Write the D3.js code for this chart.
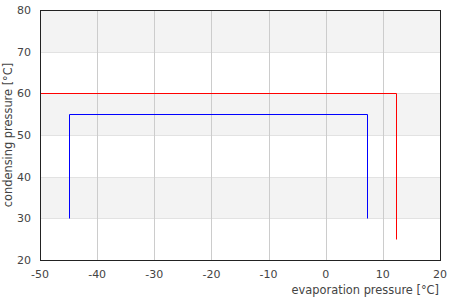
<!DOCTYPE html>
<html>
<head>
<meta charset="utf-8">
<script src="https://cdn.jsdelivr.net/npm/d3@7"></script>
<style>
body { margin: 0; background: #fff; }
text { font-family: "DejaVu Sans", sans-serif; font-size: 11px; fill: #444; }
text.title { font-size: 11.4px; }
</style>
</head>
<body>
<svg width="450" height="300"></svg>
<script>
// cycle outlines in (evaporation, condensing) coordinates
var redX = [-50, 12.3, 12.3];
var redY = [60, 60, 25];
var blueX = [-45, -45, 7.2, 7.2];
var blueY = [30, 55, 55, 30];
var xTicks = [-50, -40, -30, -20, -10, 0, 10, 20];
var yTicks = [20, 30, 40, 50, 60, 70, 80];
var bands = [[70, 80], [50, 60], [30, 40]];

var svg = d3.select("svg"),
    pLeft = 40, pRight = 440, pTop = 10, pBottom = 260;

var x = d3.scaleLinear().domain([-50, 20]).range([pLeft, pRight]);
var y = d3.scaleLinear().domain([20, 80]).range([pBottom, pTop]);

function px(v) { return Math.round(v) + 0.5; }

svg.append("g").selectAll("rect")
    .data(bands)
  .enter().append("rect")
    .attr("x", pLeft)
    .attr("y", function(d) { return px(y(d[1])); })
    .attr("width", pRight - pLeft)
    .attr("height", function(d) { return px(y(d[0])) - px(y(d[1])); })
    .attr("fill", "#f3f3f3");

svg.append("g").selectAll("line")
    .data(yTicks)
  .enter().append("line")
    .attr("x1", pLeft).attr("x2", pRight)
    .attr("y1", function(d) { return px(y(d)); })
    .attr("y2", function(d) { return px(y(d)); })
    .attr("stroke", "#e2e2e2");

svg.append("g").selectAll("line")
    .data(xTicks)
  .enter().append("line")
    .attr("y1", pTop).attr("y2", pBottom)
    .attr("x1", function(d) { return px(x(d)); })
    .attr("x2", function(d) { return px(x(d)); })
    .attr("stroke", "#cccccc");

var line = d3.line()
    .x(function(d) { return px(x(d[0])); })
    .y(function(d) { return px(y(d[1])); });

svg.append("path")
    .attr("d", line(d3.zip(redX, redY)))
    .attr("fill", "none").attr("stroke", "#ff0000");

svg.append("path")
    .attr("d", line(d3.zip(blueX, blueY)))
    .attr("fill", "none").attr("stroke", "#0000ff");

svg.append("rect")
    .attr("x", pLeft + 0.5).attr("y", pTop + 0.5)
    .attr("width", pRight - pLeft).attr("height", pBottom - pTop)
    .attr("fill", "none").attr("stroke", "#222");

svg.append("g").selectAll("text")
    .data(xTicks)
  .enter().append("text")
    .attr("x", function(d) { return x(d); })
    .attr("y", 278)
    .attr("text-anchor", "middle")
    .text(function(d) { return d; });

svg.append("g").selectAll("text")
    .data(yTicks)
  .enter().append("text")
    .attr("x", 31)
    .attr("y", function(d) { return y(d) + 4; })
    .attr("text-anchor", "end")
    .text(function(d) { return d; });

svg.append("text")
    .attr("class", "title")
    .attr("x", 439).attr("y", 294)
    .attr("text-anchor", "end")
    .text("evaporation pressure [°C]");

svg.append("text")
    .attr("class", "title")
    .attr("transform", "translate(12," + ((pTop + pBottom) / 2) + ") rotate(-90)")
    .attr("text-anchor", "middle")
    .text("condensing pressure [°C]");
</script>
</body>
</html>
